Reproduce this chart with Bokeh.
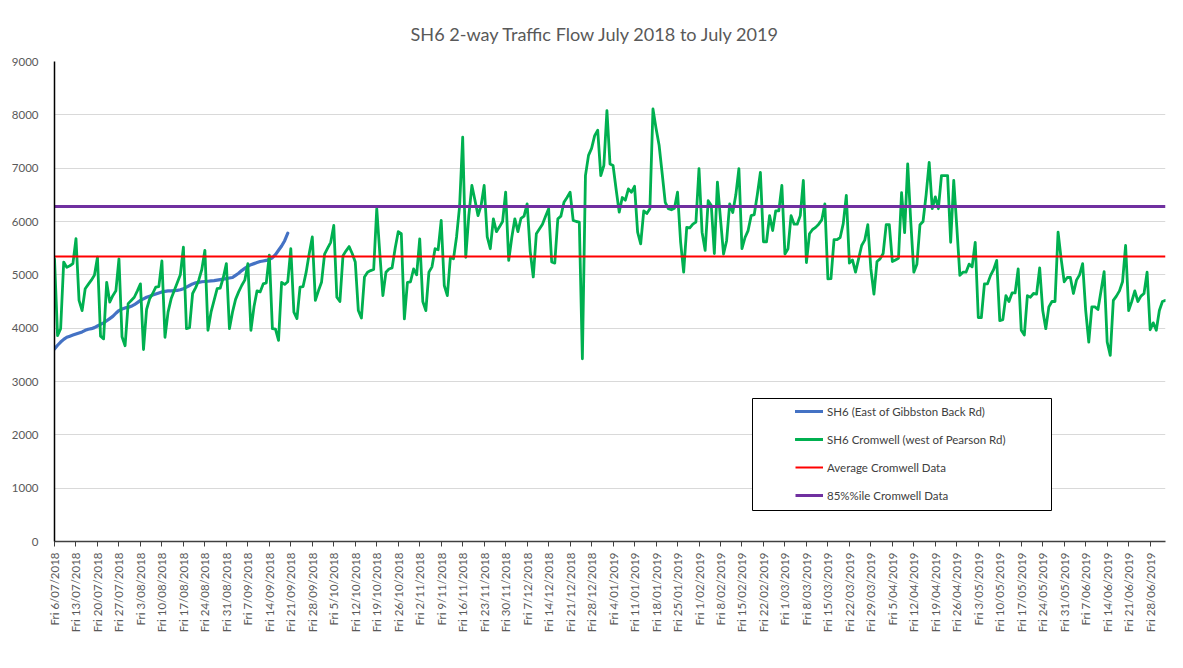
import math
import datetime as dt
from bokeh.plotting import figure
from bokeh.models import Range1d, FixedTicker, Legend, LegendItem, BoxAnnotation
from bokeh.embed import file_html
from bokeh.resources import INLINE

# ---------------- data ----------------
start_date = dt.date(2018, 7, 6)   # Fri 6/07/2018, day 0

# SH6 Cromwell (west of Pearson Rd), daily 2-way flow
cromwell = [
    5300, 3860, 3990, 5240, 5140, 5170, 5210,
    5680, 4520, 4330, 4740, 4820, 4900, 4990,
    5330, 3850, 3800, 4860, 4490, 4610, 4700,
    5300, 3840, 3670, 4460, 4520, 4580, 4700,
    4830, 3600, 4350, 4550, 4650, 4770, 4780,
    5260, 3830, 4300, 4550, 4700, 4850, 5000,
    5520, 3990, 4010, 4650, 4760, 4900, 5100,
    5460, 3960, 4300, 4520, 4740, 4750, 4950,
    5210, 3990, 4300, 4540, 4680, 4800, 4900,
    5210, 3960, 4400, 4700, 4680, 4830, 4850,
    5370, 3990, 3980, 3770, 4860, 4820, 4870,
    5490, 4300, 4180, 4770, 4780, 5050, 5400,
    5710, 4520, 4700, 4860, 5390, 5500, 5610,
    5925, 4580, 4500, 5360, 5450, 5530, 5400,
    5240, 4330, 4190, 4960, 5050, 5080, 5100,
    6240, 5400, 4610, 5050, 5110, 5130, 5500,
    5810, 5770, 4175, 4860, 4870, 5110, 5000,
    5675, 4500, 4330, 5050, 5150, 5490, 5470,
    6020, 4800, 4610, 5330, 5300, 5710, 6290,
    7580, 5330, 6110, 6675, 6400, 6110, 6300,
    6675, 5710, 5490, 6050, 5810, 5900, 6000,
    6550, 5270, 5700, 6050, 5810, 6060, 6100,
    6330, 5440, 4960, 5770, 5860, 5950, 6100,
    6240, 5240, 5220, 6050, 6100, 6360, 6450,
    6550, 6020, 6000, 5990, 3425, 6860, 7240,
    7370, 7610, 7710, 6860, 7050, 8080, 7080,
    7050, 6600, 6175, 6450, 6400, 6610, 6550,
    6660, 5800, 5580, 6200, 6150, 6240, 8110,
    7750, 7430, 6900, 6360, 6240, 6220, 6250,
    6550, 5620, 5050, 5890, 5880, 5950, 5990,
    6990, 5800, 5460, 6390, 6300, 5400, 6740,
    6050, 5390, 5640, 6330, 6170, 6500, 6990,
    5490, 5700, 5830, 6110, 6130, 6500, 6920,
    5620, 5620, 6110, 5830, 6200, 6200, 6675,
    5390, 5490, 6110, 5950, 5950, 6110, 6770,
    5230, 5770, 5850, 5890, 5950, 6030, 6330,
    4925, 4930, 5660, 5660, 5700, 5960, 6490,
    5220, 5280, 5050, 5300, 5550, 5650, 5940,
    5110, 4640, 5250, 5300, 5400, 5940, 5940,
    5250, 5280, 5310, 6540, 5790, 7080, 6000,
    5050, 5200, 5940, 6000, 6500, 7110, 6240,
    6460, 6240, 6860, 6860, 6860, 5610, 6770,
    5900, 4990, 5050, 5050, 5200, 5150, 5610,
    4200, 4200, 4830, 4830, 4990, 5100, 5270,
    4140, 4160, 4610, 4500, 4660, 4660, 5110,
    3960, 3870, 4610, 4580, 4650, 4640, 5130,
    4330, 3990, 4400, 4500, 4500, 5800, 5300,
    4870, 4950, 4950, 4650, 4900, 5000, 5210,
    4330, 3740, 4400, 4400, 4350, 4700, 5060,
    3740, 3490, 4520, 4600, 4700, 4870, 5550,
    4330, 4500, 4700, 4500, 4600, 4650, 5050,
    3970, 4100, 3960, 4330, 4500, 4520,
]

# SH6 (East of Gibbston Back Rd)
gibbston = [
    3610, 3680, 3740, 3790, 3830, 3850, 3870, 3890, 3910, 3930,
    3960, 3980, 3990, 4010, 4040, 4070, 4100, 4140, 4180, 4220,
    4280, 4330, 4360, 4380, 4390, 4410, 4440, 4480, 4520, 4550,
    4580, 4600, 4620, 4640, 4660, 4680, 4690, 4700, 4700, 4705,
    4710, 4720, 4740, 4770, 4800, 4830, 4850, 4860, 4870, 4875,
    4880, 4885, 4890, 4900, 4910, 4920, 4930, 4940, 4950, 4990,
    5030, 5080, 5120, 5160, 5190, 5210, 5230, 5250, 5260, 5270,
    5290, 5320, 5380, 5460, 5540, 5640, 5780,
]

avg_cromwell = 5345
pct85_cromwell = 6280

series_names = [
    "SH6 (East of Gibbston Back Rd)",
    "SH6 Cromwell (west of Pearson Rd)",
    "Average Cromwell Data",
    "85%%ile Cromwell Data",
]

y_ticks = [0, 1000, 2000, 3000, 4000, 5000, 6000, 7000, 8000, 9000]

days = list(range(len(cromwell)))
gib_days = list(range(len(gibbston)))
tick_days = list(range(0, len(cromwell), 7))
tick_dates = [start_date + dt.timedelta(days=d) for d in tick_days]
tick_labels = ["Fri %d/%02d/%d" % (d.day, d.month, d.year) for d in tick_dates]

# ---------------- figure ----------------
FONT = "Lato"
GREY = "#595959"

p = figure(
    width=1175, height=660,
    output_backend="svg", toolbar_location=None,
    x_range=Range1d(days[0], days[-1]), y_range=Range1d(y_ticks[0], y_ticks[-1]),
    min_border_left=54, min_border_right=10, min_border_top=61, min_border_bottom=119,
)
p.outline_line_color = None
p.background_fill_color = "white"
p.border_fill_color = "white"

p.title.text = "SH6 2-way Traffic Flow July 2018 to July 2019"
p.title.align = "left"
p.title.offset = 356
p.title.standoff = 34
p.title.text_font = FONT
p.title.text_font_size = "18.1px"
p.title.text_font_style = "normal"
p.title.text_color = GREY

# axes
p.xaxis.ticker = FixedTicker(ticks=tick_days)
p.xaxis.major_label_overrides = dict(zip(tick_days, tick_labels))
p.xaxis.major_label_orientation = math.pi / 2
p.xaxis.major_label_text_font = FONT
p.xaxis.major_label_text_font_size = "11.5px"
p.xaxis.major_label_text_color = GREY
p.xaxis.major_label_standoff = 6
p.xaxis.axis_line_color = "#404040"
p.xaxis.axis_line_width = 1.5
p.xaxis.major_tick_line_color = "#404040"
p.xaxis.major_tick_out = 5
p.xaxis.major_tick_in = 0
p.xaxis.minor_tick_line_color = None

p.yaxis.ticker = FixedTicker(ticks=y_ticks)
p.yaxis.major_label_text_font = FONT
p.yaxis.major_label_text_font_size = "11.5px"
p.yaxis.major_label_text_color = GREY
p.yaxis.major_label_standoff = 10
p.yaxis.axis_line_color = "black"
p.yaxis.axis_line_width = 1.5
p.yaxis.major_tick_line_color = None
p.yaxis.minor_tick_line_color = None

p.xgrid.visible = False
p.ygrid.grid_line_color = "#D9D9D9"
p.ygrid.grid_line_width = 1

# series
r_gib = p.line(gib_days, gibbston, line_color="#4472C4", line_width=3.2,
               line_join="round", line_cap="round")
r_crom = p.line(days, cromwell, line_color="#00B050", line_width=2.8,
                line_join="round", line_cap="round")
r_avg = p.line([days[0], days[-1]], [avg_cromwell, avg_cromwell],
               line_color="#FF0000", line_width=2)
r_pct = p.line([days[0], days[-1]], [pct85_cromwell, pct85_cromwell],
               line_color="#7030A0", line_width=3)

# legend box + legend
box = BoxAnnotation(left=752, right=1051, top=398, bottom=510,
                    left_units="canvas", right_units="canvas",
                    top_units="canvas", bottom_units="canvas",
                    fill_color="white", fill_alpha=1.0,
                    line_color="black", line_width=1, line_alpha=1.0)
p.add_layout(box)

legend = Legend(
    items=[LegendItem(label=n, renderers=[r]) for n, r in
           zip(series_names, [r_gib, r_crom, r_avg, r_pct])],
    location=(741, 36),
    padding=0, margin=0, spacing=8,
    label_height=20, glyph_height=20, glyph_width=28, label_standoff=4,
    border_line_alpha=0, background_fill_alpha=0,
    label_text_font=FONT, label_text_font_size="11.5px", label_text_color="#404040",
)
p.add_layout(legend)

open("out.html", "w").write(file_html(p, INLINE))
